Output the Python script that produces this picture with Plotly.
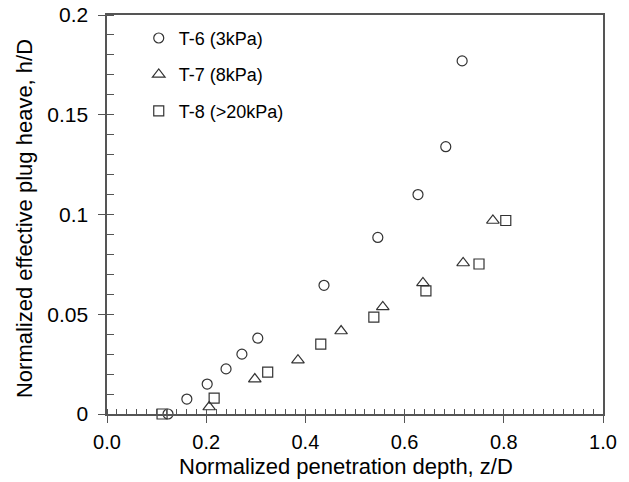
import plotly.graph_objects as go

# T-6 (3kPa)
t6_x = [0.123, 0.161, 0.202, 0.240, 0.272, 0.304, 0.4375, 0.546, 0.627, 0.683, 0.716]
t6_y = [0.0, 0.0075, 0.015, 0.0226, 0.030, 0.038, 0.0645, 0.0885, 0.110, 0.134, 0.177]
# T-7 (8kPa)
t7_x = [0.206, 0.298, 0.385, 0.472, 0.556, 0.637, 0.718, 0.778]
t7_y = [0.0035, 0.0175, 0.027, 0.0416, 0.0537, 0.0657, 0.0757, 0.097]
# T-8 (>20kPa)
t8_x = [0.111, 0.216, 0.324, 0.431, 0.538, 0.643, 0.750, 0.804]
t8_y = [0.0, 0.008, 0.021, 0.035, 0.0486, 0.0617, 0.0752, 0.097]

names = ["T-6 (3kPa)", "T-7 (8kPa)", "T-8 (>20kPa)"]
symbols = ["circle-open", "triangle-up-open", "square-open"]

x_ticks = [0.0, 0.2, 0.4, 0.6, 0.8, 1.0]
x_labels = ["0.0", "0.2", "0.4", "0.6", "0.8", "1.0"]
y_ticks = [0, 0.05, 0.1, 0.15, 0.2]
y_labels = ["0", "0.05", "0.1", "0.15", "0.2"]

x_title = "Normalized penetration depth, z/D"
y_title = "Normalized effective plug heave, h/D"

FONT = "Arial, Liberation Sans, sans-serif"
INK = "#333333"
AX = "#555555"
NBSP = "\u00a0"

fig = go.Figure()
for i, (xs, ys) in enumerate([(t6_x, t6_y), (t7_x, t7_y), (t8_x, t8_y)]):
    fig.add_trace(go.Scatter(
        x=xs, y=ys, mode="markers", name=names[i], legendgroup=f"g{i}",
        marker=dict(symbol=symbols[i], size=10 if i != 1 else 11,
                    color=INK, line=dict(width=1.2, color=INK)),
        cliponaxis=False,
    ))

fig.update_layout(
    width=629, height=482,
    margin=dict(l=107, r=26, t=15, b=68, autoexpand=False),
    paper_bgcolor="white", plot_bgcolor="white",
    font=dict(family=FONT, color="black"),
    showlegend=True,
    legend=dict(x=0.064, y=0.988, xanchor="left", yanchor="top",
                bgcolor="rgba(0,0,0,0)", font=dict(size=18, family=FONT),
                tracegroupgap=10, itemwidth=30),
    annotations=[
        dict(text=x_title, xref="paper", yref="paper", x=0.481, y=-0.1328,
             xanchor="center", yanchor="middle", showarrow=False,
             font=dict(size=22, family=FONT, color="black")),
        dict(text=y_title, xref="paper", yref="paper", x=-0.165, y=0.489,
             xanchor="center", yanchor="middle", showarrow=False, textangle=-90,
             font=dict(size=22, family=FONT, color="black")),
    ],
)
fig.update_xaxes(
    range=[0, 1], tickvals=x_ticks, ticktext=x_labels, automargin=False,
    showgrid=False, zeroline=False,
    showline=True, linecolor=AX, linewidth=1.5, mirror=True,
    ticks="outside", ticklen=7, tickwidth=1.3, tickcolor=AX,
    minor=dict(dtick=0.02, ticks="inside", ticklen=5, tickwidth=1.2, tickcolor=AX, showgrid=False),
    tickfont=dict(size=20, family=FONT), ticklabelstandoff=2,
)
fig.update_yaxes(
    range=[0, 0.2], tickvals=y_ticks, ticktext=[t + NBSP for t in y_labels], automargin=False,
    showgrid=False, zeroline=False,
    showline=True, linecolor=AX, linewidth=1.5, mirror=True,
    ticks="outside", ticklen=7, tickwidth=1.3, tickcolor=AX,
    minor=dict(dtick=0.01, ticks="inside", ticklen=7, tickwidth=1.2, tickcolor=AX, showgrid=False),
    tickfont=dict(size=21, family=FONT),
)

fig.write_html("out.html")
